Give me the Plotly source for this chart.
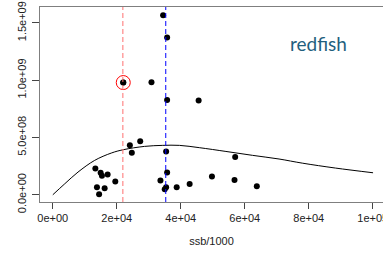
import plotly.graph_objects as go

# Observed points (ssb/1000, recruits)
ssb = [34480, 35730, 22020, 30840, 35730, 45580,
       24080, 27320, 24700, 35420, 57000,
       13300, 14950, 15360, 17130, 19530, 35730, 33640, 49740, 56790,
       13800, 16200, 14470, 35420, 34980, 38720, 42770, 63760]
rec = [1.565e9, 1.372e9, 0.979e9, 0.982e9, 0.827e9, 0.822e9,
       0.431e9, 0.466e9, 0.367e9, 0.378e9, 0.329e9,
       0.230e9, 0.192e9, 0.166e9, 0.177e9, 0.116e9, 0.195e9, 0.125e9, 0.160e9, 0.128e9,
       0.066e9, 0.058e9, 0.004e9, 0.066e9, 0.049e9, 0.066e9, 0.093e9, 0.075e9]

# Highlighted point
hl_ssb = [22020]
hl_rec = [0.979e9]

# Fitted stock-recruit curve
curve_ssb = [0, 3740, 7880, 13080, 18280, 22020, 28660, 34360, 39560,
             45790, 54110, 62400, 70710, 77970, 88370, 100090]
curve_rec = [0.0, 0.096e9, 0.198e9, 0.300e9, 0.364e9, 0.393e9, 0.422e9, 0.431e9, 0.431e9,
             0.411e9, 0.378e9, 0.344e9, 0.312e9, 0.276e9, 0.233e9, 0.192e9]

# Reference lines
blim = 21900
bpa = 35300

x_ticks = [0, 20000, 40000, 60000, 80000, 100000]
x_labels = ["0e+00", "2e+04", "4e+04", "6e+04", "8e+04", "1e+05"]
y_ticks = [0, 5e8, 1e9, 1.5e9]
y_labels = ["0.0e+00", "5.0e+08", "1.0e+09", "1.5e+09"]

fig = go.Figure()
fig.add_trace(go.Scatter(x=curve_ssb, y=curve_rec, mode="lines",
                         line=dict(color="black", width=1, shape="spline"),
                         showlegend=False, hoverinfo="skip"))
fig.add_trace(go.Scatter(x=ssb, y=rec, mode="markers",
                         marker=dict(color="black", size=6),
                         showlegend=False))
fig.add_trace(go.Scatter(x=hl_ssb, y=hl_rec, mode="markers",
                         marker=dict(color="black", size=6),
                         showlegend=False))
fig.add_trace(go.Scatter(x=hl_ssb, y=hl_rec, mode="markers",
                         marker=dict(symbol="circle-open", color="red", size=14,
                                     line=dict(width=1, color="red")),
                         showlegend=False))

fig.add_vline(x=blim, line=dict(color="#ff6f6f", width=1, dash="5px,3px"))
fig.add_vline(x=bpa, line=dict(color="blue", width=1, dash="5px,3px"))

fig.add_annotation(text="redfish", xref="paper", yref="paper", x=0.813, y=0.815,
                   showarrow=False, font=dict(family="Lato", size=19, color="#1f5f7e"),
                   xanchor="center", yanchor="middle")

font = dict(family="Liberation Sans, Arial, sans-serif", size=11, color="#222222")

fig.update_xaxes(range=[-4000, 103200], tickvals=x_ticks, ticktext=x_labels,
                 showgrid=False, zeroline=False, showline=True, mirror=True,
                 linecolor="#7f7f7f", linewidth=1, ticks="outside", ticklen=6,
                 tickcolor="#444444", tickfont=font, automargin=False,
                 ticklabeloverflow="allow",
                 title=dict(text="ssb/1000", font=font, standoff=14))
fig.update_yaxes(range=[-0.063e9, 1.638e9], tickvals=y_ticks, ticktext=y_labels,
                 showgrid=False, zeroline=False, showline=True, mirror=False,
                 linecolor="#7f7f7f", linewidth=1, ticks="outside", ticklen=7,
                 tickcolor="#444444", tickfont=font, tickangle=-90,
                 ticklabelstandoff=2, automargin=False, ticklabeloverflow="allow")

fig.update_layout(width=383, height=255, margin=dict(l=40, r=0, t=7, b=53),
                  plot_bgcolor="white", paper_bgcolor="white", showlegend=False)

fig.write_html("out.html", config={"displayModeBar": False},
               post_script="document.body.style.margin='0';document.body.style.overflow='hidden';")
